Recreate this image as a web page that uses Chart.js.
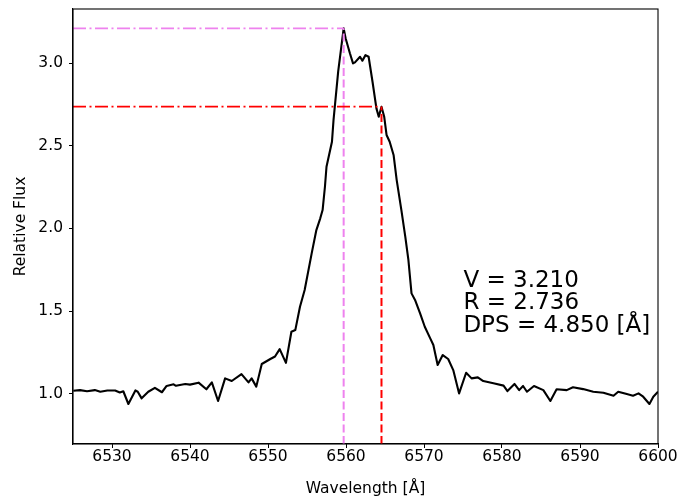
<!DOCTYPE html>
<html>
<head>
<meta charset="utf-8">
<script src="https://cdn.jsdelivr.net/npm/chart.js@4/dist/chart.umd.min.js"></script>
<style>
  html, body { margin: 0; padding: 0; background: #ffffff; }
  #wrap { width: 678px; height: 497px; }
</style>
</head>
<body>
<div id="wrap"><canvas id="c" width="678" height="497"></canvas></div>
<script>
// ---- data ----
const wavelengths = [
  6525.04, 6525.9, 6526.8, 6527.8, 6528.5, 6529.4, 6530.4, 6531.0, 6531.45, 6532.1,
  6533.0, 6533.3, 6533.8, 6534.65, 6535.5, 6536.4, 6537.0, 6537.9, 6538.2, 6538.7,
  6539.4, 6540.0, 6541.1, 6542.1, 6542.8, 6543.6, 6544.5, 6545.35, 6546.6, 6547.5,
  6547.9, 6548.5, 6549.2, 6550.3, 6550.9, 6551.5, 6552.3, 6553.0, 6553.5, 6554.1,
  6554.7, 6555.6, 6556.2, 6556.7, 6557.0, 6557.3, 6557.5, 6558.2, 6558.4, 6559.0,
  6559.7, 6559.95, 6560.5, 6560.9, 6561.15, 6561.8, 6562.1, 6562.5, 6562.9, 6563.4,
  6563.9, 6564.2, 6564.55, 6564.9, 6565.2, 6565.6, 6566.1, 6566.5, 6567.1, 6567.6,
  6568.0, 6568.4, 6568.85, 6569.5, 6570.1, 6570.8, 6571.2, 6571.75, 6572.4, 6573.1,
  6573.75, 6574.5, 6575.4, 6576.1, 6576.9, 6577.6, 6578.9, 6580.2, 6580.7, 6581.6,
  6582.2, 6582.7, 6583.2, 6584.1, 6585.3, 6586.2, 6587.0, 6588.3, 6589.1, 6590.4,
  6591.7, 6593.0, 6594.3, 6594.9, 6596.0, 6596.8, 6597.5, 6598.1, 6598.9, 6599.4,
  6600.0
];
const flux = [
  1.018, 1.022, 1.015, 1.022, 1.012, 1.020, 1.020, 1.008, 1.015, 0.938,
  1.020, 1.012, 0.972, 1.012, 1.036, 1.009, 1.047, 1.057, 1.048, 1.053,
  1.059, 1.055, 1.067, 1.027, 1.069, 0.956, 1.093, 1.077, 1.119, 1.069,
  1.093, 1.043, 1.180, 1.210, 1.225, 1.270, 1.187, 1.375, 1.385, 1.526,
  1.627, 1.849, 1.990, 2.061, 2.111, 2.252, 2.373, 2.524, 2.655, 2.950,
  3.210, 3.150, 3.059, 2.998, 3.004, 3.038, 3.014, 3.048, 3.038, 2.887,
  2.726, 2.675, 2.736, 2.675, 2.565, 2.524, 2.444, 2.292, 2.111, 1.950,
  1.809, 1.607, 1.567, 1.486, 1.405, 1.335, 1.295, 1.174, 1.234, 1.210,
  1.143, 1.002, 1.127, 1.093, 1.099, 1.077, 1.063, 1.049, 1.016, 1.059,
  1.022, 1.047, 1.012, 1.047, 1.022, 0.956, 1.027, 1.022, 1.039, 1.028,
  1.012, 1.006, 0.988, 1.012, 0.998, 0.988, 1.002, 0.982, 0.938, 0.982,
  1.012
];
const xTicks = [6530, 6540, 6550, 6560, 6570, 6580, 6590, 6600];
const yTicks = [1.0, 1.5, 2.0, 2.5, 3.0];
const xRange = [6525, 6600];
const yRange = [0.696, 3.327];
const vValue = 3.210;      // violet peak flux
const rValue = 2.736;      // red peak flux
const vWave = 6559.70;     // violet peak wavelength
const rWave = 6564.55;     // red peak wavelength
const dpsValue = 4.850;
const annotationLines = [
  'V = ' + vValue.toFixed(3),
  'R = ' + rValue.toFixed(3),
  'DPS = ' + dpsValue.toFixed(3) + ' [Å]'
];

// ---- chart ----
const FONT = 'DejaVu Sans';
const spectrum = wavelengths.map((w, i) => ({ x: w, y: flux[i] }));

const framePlugin = {
  id: 'frame',
  afterDatasetsDraw(chart) {
    const { ctx, chartArea: a } = chart;
    ctx.save();
    ctx.strokeStyle = '#000';
    ctx.lineWidth = 1.1;
    ctx.strokeRect(a.left, a.top, a.right - a.left, a.bottom - a.top);
    ctx.restore();
  },
  afterDraw(chart) {
    const { ctx } = chart;
    const xs = chart.scales.x, ys = chart.scales.y;
    ctx.save();
    ctx.fillStyle = '#000';
    ctx.font = '23px "' + FONT + '"';
    ctx.textBaseline = 'alphabetic';
    ctx.textAlign = 'left';
    const x0 = xs.getPixelForValue(6575.05);
    const yBase = ys.getPixelForValue(1.647);
    annotationLines.forEach((t, i) => ctx.fillText(t, x0, yBase + i * 22.7));
    ctx.restore();
  }
};

new Chart(document.getElementById('c'), {
  type: 'scatter',
  data: {
    datasets: [
      {
        data: [{ x: xRange[0], y: vValue }, { x: vWave, y: vValue }],
        showLine: true, borderColor: '#ee82ee', borderWidth: 1.8,
        borderDash: [13, 3.5, 2, 3.5], pointRadius: 0
      },
      {
        data: [{ x: xRange[0], y: rValue }, { x: rWave, y: rValue }],
        showLine: true, borderColor: '#ff0000', borderWidth: 1.8,
        borderDash: [13, 3.5, 2, 3.5], pointRadius: 0
      },
      {
        data: [{ x: vWave, y: yRange[0] }, { x: vWave, y: vValue }],
        showLine: true, borderColor: '#ee82ee', borderWidth: 2,
        borderDash: [8, 3.5], pointRadius: 0
      },
      {
        data: [{ x: rWave, y: yRange[0] }, { x: rWave, y: rValue }],
        showLine: true, borderColor: '#ff0000', borderWidth: 2,
        borderDash: [8, 3.5], pointRadius: 0
      },
      {
        data: spectrum,
        showLine: true, borderColor: '#000000', borderWidth: 2.1,
        pointRadius: 0, tension: 0, borderJoinStyle: 'round'
      }
    ]
  },
  options: {
    responsive: false,
    animation: false,
    devicePixelRatio: 1,
    layout: { padding: { left: 0, top: 9, right: 20, bottom: 0 } },
    plugins: { legend: { display: false }, tooltip: { enabled: false } },
    scales: {
      x: {
        type: 'linear',
        min: xRange[0], max: xRange[1],
        afterBuildTicks: s => { s.ticks = xTicks.map(v => ({ value: v })); },
        afterFit: s => { s.height = 53; s.paddingLeft = 0; s.paddingRight = 0; },
        grid: { drawOnChartArea: false, drawTicks: true, tickLength: 4, color: '#000', tickWidth: 1 },
        border: { display: true, color: '#000', width: 1.1 },
        ticks: {
          color: '#000', padding: 1,
          font: { family: FONT, size: 15.5, lineHeight: 1.0 },
          callback: v => String(v), maxRotation: 0, autoSkip: false
        },
        title: {
          display: true, text: 'Wavelength [Å]', color: '#000',
          font: { family: FONT, size: 15.5, lineHeight: 1.0 },
          padding: { top: 0, bottom: 0 }
        }
      },
      y: {
        type: 'linear',
        min: yRange[0], max: yRange[1],
        afterBuildTicks: s => { s.ticks = yTicks.map(v => ({ value: v })); },
        afterFit: s => { s.width = 73; s.paddingTop = 0; s.paddingBottom = 0; },
        grid: { drawOnChartArea: false, drawTicks: true, tickLength: 4, color: '#000', tickWidth: 1 },
        border: { display: true, color: '#000', width: 1.1 },
        ticks: {
          color: '#000', padding: 6,
          font: { family: FONT, size: 15.5 },
          callback: v => Number(v).toFixed(1), autoSkip: false
        },
        title: {
          display: true, text: 'Relative Flux', color: '#000',
          font: { family: FONT, size: 15.5, lineHeight: 1.2 },
          padding: { top: 12, bottom: 0 }
        }
      }
    }
  },
  plugins: [framePlugin]
});
</script>
</body>
</html>
